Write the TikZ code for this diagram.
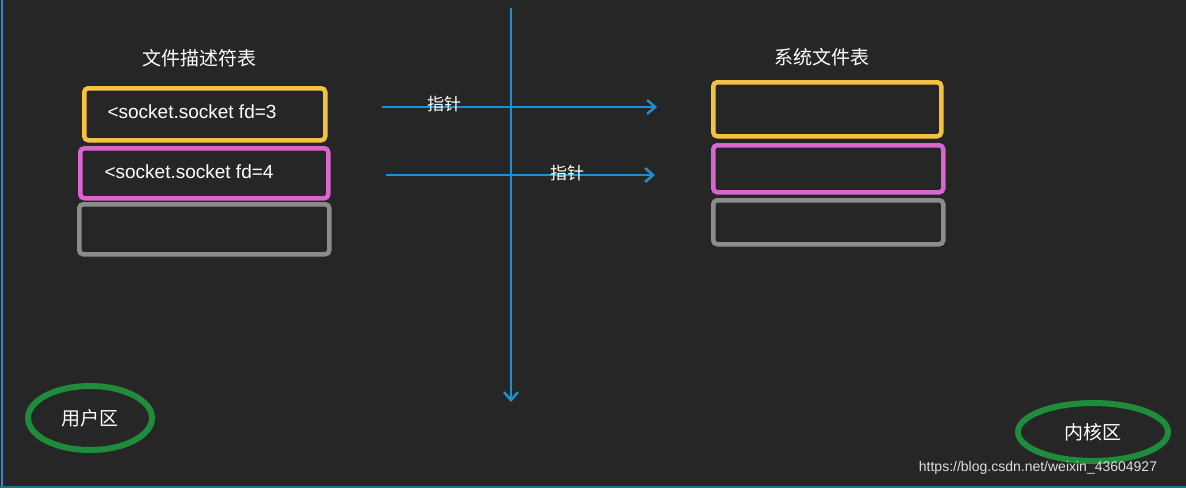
\documentclass[tikz,border=0pt]{standalone}
\usepackage{fontspec}
\setmainfont{Liberation Sans}
\newfontfamily\cjk{Noto Sans CJK SC}
\usetikzlibrary{arrows.meta}
\definecolor{bg}{HTML}{262626}
\definecolor{yel}{HTML}{F5C342}
\definecolor{mag}{HTML}{D966D0}
\definecolor{gry}{HTML}{8C8C8C}
\definecolor{blu}{HTML}{1E8FD0}
\definecolor{grn}{HTML}{1E8C3A}
\tikzset{
  cell/.style={draw, line width=4.5pt, rounded corners=4pt, anchor=north west},
  lab/.style={text=white, font=\cjk\fontsize{19}{22}\selectfont},
  mono/.style={text=white, font=\fontsize{19}{22}\selectfont, anchor=west},
  ptr/.style={draw=blu, line width=2.5pt, -{Straight Barb[length=8pt,width=14pt]}},
  zone/.style={draw=grn, line width=6pt, ellipse, text=white, font=\cjk\fontsize{19}{22}\selectfont}
}
\usetikzlibrary{shapes.geometric}
\begin{document}
\begin{tikzpicture}[x=1pt,y=-1pt]
\fill[bg] (0,0) rectangle (1186,488);
\useasboundingbox (0,0) rectangle (1186,488);
\draw[blu, line width=2pt] (1.5,0) -- (1.5,488);
\draw[blu!70!bg, line width=1.5pt] (0,487) -- (1186,487);
\node[lab] (t1) at (199,58) {文件描述符表};
\node[lab] (t2) at (822,57) {系统文件表};
\node[cell, draw=yel, minimum width=241pt, minimum height=52pt] (a1) at (82,86) {};
\node[cell, draw=mag, minimum width=248pt, minimum height=50pt] (a2) at (78,146) {};
\node[cell, draw=gry, minimum width=250pt, minimum height=50pt] (a3) at (77,202) {};
\node[mono] at (104,112) {<socket.socket fd=3};
\node[mono] at (101,172) {<socket.socket fd=4};
\node[cell, draw=yel, minimum width=228pt, minimum height=54pt] (b1) at (711,80) {};
\node[cell, draw=mag, minimum width=230pt, minimum height=47pt] (b2) at (711,143) {};
\node[cell, draw=gry, minimum width=230pt, minimum height=44pt] (b3) at (711,198) {};
\coordinate (vt) at (511,8);
\coordinate (vb) at (511,402);
\draw[ptr] (vt) -- (vb);
\coordinate (p1) at (382,107);
\coordinate (q1) at (657,107);
\coordinate (p2) at (386,175);
\coordinate (q2) at (655,175);
\draw[ptr] (p1) -- (q1);
\draw[ptr] (p2) -- (q2);
\node[lab, font=\cjk\fontsize{17}{20}\selectfont] (l1) at (444,104) {指针};
\node[lab, font=\cjk\fontsize{17}{20}\selectfont] (l2) at (567,173) {指针};
\node[zone, minimum width=124pt, minimum height=64pt] (u) at (90,418) {用户区};
\node[zone, minimum width=150pt, minimum height=58pt] (k) at (1093,432) {内核区};
\node[text=white!85!bg, font=\fontsize{14}{16}\selectfont] (w) at (1038,468) {https://blog.csdn.net/weixin\_43604927};
\end{tikzpicture}
\end{document}
